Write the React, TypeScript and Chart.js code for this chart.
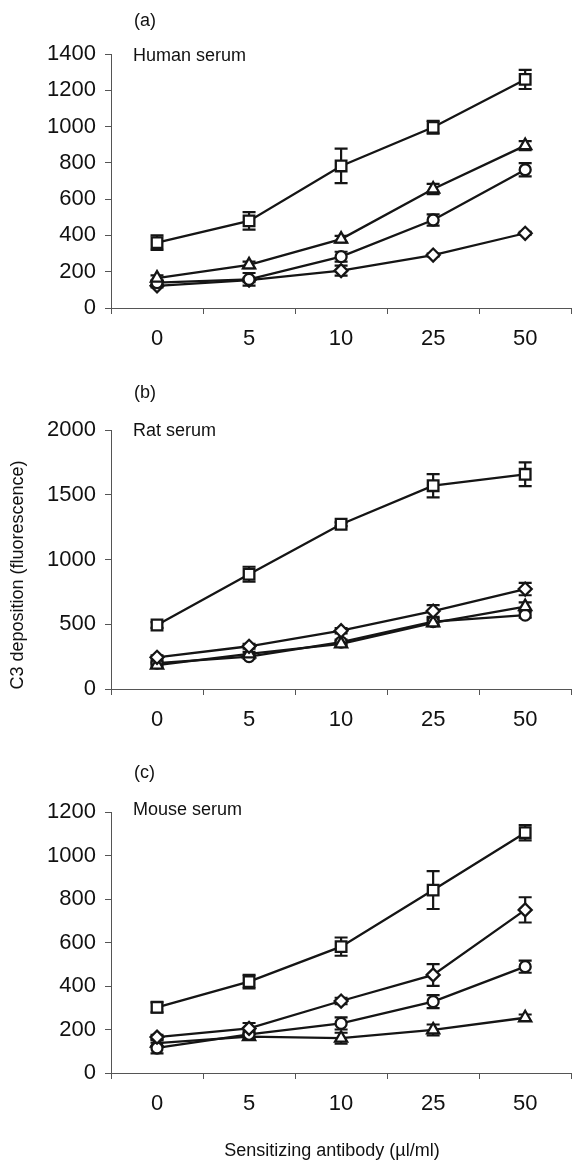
import React, { useEffect, useRef } from 'react';
import { Chart, registerables } from 'chart.js';

Chart.register(...registerables);

// ---------- data ----------
const categories = ['0', '5', '10', '25', '50'];

// (a) Human serum
const humanSquare = [360, 480, 783, 996, 1260];
const humanSquareErr = [40, 48, 95, 35, 53];
const humanTriangle = [165, 238, 380, 656, 895];
const humanTriangleErr = [15, 18, 18, 28, 25];
const humanCircle = [140, 158, 283, 485, 762];
const humanCircleErr = [12, 35, 27, 31, 36];
const humanDiamond = [122, 154, 206, 292, 412];
const humanDiamondErr = [8, 12, 28, 8, 8];
const humanYTicks = [0, 200, 400, 600, 800, 1000, 1200, 1400];

// (b) Rat serum
const ratSquare = [494, 886, 1272, 1570, 1658];
const ratSquareErr = [22, 58, 15, 90, 92];
const ratDiamond = [245, 330, 450, 602, 772];
const ratDiamondErr = [15, 18, 20, 45, 48];
const ratTriangle = [185, 272, 348, 510, 636];
const ratTriangleErr = [15, 15, 20, 25, 33];
const ratCircle = [200, 250, 362, 520, 571];
const ratCircleErr = [15, 15, 20, 25, 20];
const ratYTicks = [0, 500, 1000, 1500, 2000];

// (c) Mouse serum
const mouseSquare = [302, 420, 581, 841, 1105];
const mouseSquareErr = [23, 31, 42, 87, 35];
const mouseDiamond = [165, 205, 331, 451, 750];
const mouseDiamondErr = [10, 25, 15, 50, 58];
const mouseCircle = [115, 178, 228, 328, 489];
const mouseCircleErr = [25, 15, 28, 30, 28];
const mouseTriangle = [137, 167, 160, 198, 254];
const mouseTriangleErr = [15, 15, 25, 25, 15];
const mouseYTicks = [0, 200, 400, 600, 800, 1000, 1200];

const FONT = '"Liberation Sans", Arial, Helvetica, sans-serif';
const INK = '#151515';
const TEXT = '#111';
const AXIS = '#555';

const errorBarPlugin = {
  id: 'errorBars',
  beforeDatasetsDraw(chart: any) {
    const ctx = chart.ctx;
    const yScale = chart.scales.y;
    chart.data.datasets.forEach((ds: any, di: number) => {
      const errs = ds.errors;
      if (!errs) return;
      const meta = chart.getDatasetMeta(di);
      meta.data.forEach((pt: any, i: number) => {
        const v = ds.data[i];
        const e = errs[i];
        if (!e) return;
        const yTop = yScale.getPixelForValue(v + e);
        const yBot = yScale.getPixelForValue(v - e);
        ctx.save();
        ctx.strokeStyle = INK;
        ctx.lineWidth = 2.2;
        ctx.beginPath();
        ctx.moveTo(pt.x, yTop);
        ctx.lineTo(pt.x, yBot);
        ctx.moveTo(pt.x - 6.5, yTop);
        ctx.lineTo(pt.x + 6.5, yTop);
        ctx.moveTo(pt.x - 6.5, yBot);
        ctx.lineTo(pt.x + 6.5, yBot);
        ctx.stroke();
        ctx.restore();
      });
    });
  },
};

function makeDataset(data: number[], errors: number[], style: string, radius: number) {
  return {
    data,
    errors,
    borderColor: INK,
    borderWidth: 2.3,
    pointStyle: style,
    pointRadius: radius,
    pointBorderWidth: 2.3,
    pointBackgroundColor: '#fff',
    pointBorderColor: INK,
    fill: false,
    tension: 0,
  } as any;
}

type PanelProps = {
  top: number;
  height: number;
  padTop: number;
  axisBottom: number;
  yTicks: number[];
  datasets: any[];
};

function Panel({ top, height, padTop, axisBottom, yTicks, datasets }: PanelProps) {
  const ref = useRef<HTMLCanvasElement | null>(null);
  useEffect(() => {
    if (!ref.current) return;
    const tickFont = { family: FONT, size: 22 };
    const chart = new Chart(ref.current, {
      type: 'line',
      data: { labels: categories, datasets },
      plugins: [errorBarPlugin],
      options: {
        animation: false,
        responsive: false,
        devicePixelRatio: 1,
        layout: { padding: { top: padTop, right: 4, left: 0, bottom: 0 } },
        plugins: { legend: { display: false }, tooltip: { enabled: false } },
        scales: {
          x: {
            type: 'category',
            offset: true,
            grid: { offset: true, drawOnChartArea: false, drawTicks: true, tickLength: 6, color: AXIS },
            border: { display: true, color: AXIS, width: 1 },
            ticks: { font: tickFont, color: TEXT, padding: 12, autoSkip: false, maxRotation: 0 },
            afterFit: (s: any) => {
              s.height = height - axisBottom;
            },
          },
          y: {
            min: yTicks[0],
            max: yTicks[yTicks.length - 1],
            grid: { drawOnChartArea: false, drawTicks: true, tickLength: 6, color: AXIS },
            border: { display: true, color: AXIS, width: 1 },
            ticks: { font: tickFont, color: TEXT, padding: 9, callback: (v: any) => String(v) },
            afterBuildTicks: (s: any) => {
              s.ticks = yTicks.map((v) => ({ value: v }));
            },
            afterFit: (s: any) => {
              s.width = 111;
            },
          },
        },
      } as any,
    });
    return () => chart.destroy();
  }, []);
  return (
    <canvas
      ref={ref}
      width={581}
      height={height}
      style={{ position: 'absolute', left: 0, top, width: 581, height }}
    />
  );
}

function Label({ text, left, cy, size = 18 }: { text: string; left: number; cy: number; size?: number }) {
  return (
    <div
      style={{
        position: 'absolute',
        left,
        top: cy - 12,
        height: 24,
        lineHeight: '24px',
        fontFamily: FONT,
        fontSize: size,
        color: TEXT,
        whiteSpace: 'nowrap',
      }}
    >
      {text}
    </div>
  );
}

export default function App() {
  const humanSets = [
    makeDataset(humanSquare, humanSquareErr, 'rect', 7.5),
    makeDataset(humanTriangle, humanTriangleErr, 'triangle', 7),
    makeDataset(humanCircle, humanCircleErr, 'circle', 5.5),
    makeDataset(humanDiamond, humanDiamondErr, 'rectRot', 6.5),
  ];
  const ratSets = [
    makeDataset(ratSquare, ratSquareErr, 'rect', 7.5),
    makeDataset(ratDiamond, ratDiamondErr, 'rectRot', 6.5),
    makeDataset(ratTriangle, ratTriangleErr, 'triangle', 7),
    makeDataset(ratCircle, ratCircleErr, 'circle', 5.5),
  ];
  const mouseSets = [
    makeDataset(mouseSquare, mouseSquareErr, 'rect', 7.5),
    makeDataset(mouseDiamond, mouseDiamondErr, 'rectRot', 6.5),
    makeDataset(mouseCircle, mouseCircleErr, 'circle', 5.5),
    makeDataset(mouseTriangle, mouseTriangleErr, 'triangle', 7),
  ];
  return (
    <div style={{ position: 'absolute', left: 0, top: 0, width: 581, height: 1162, background: '#fff', overflow: 'hidden' }}>
      <Panel top={0} height={370} padTop={54} axisBottom={308} yTicks={humanYTicks} datasets={humanSets} />
      <Panel top={370} height={380} padTop={60} axisBottom={319} yTicks={ratYTicks} datasets={ratSets} />
      <Panel top={750} height={412} padTop={62} axisBottom={323} yTicks={mouseYTicks} datasets={mouseSets} />

      <Label text="(a)" left={134} cy={20} />
      <Label text="Human serum" left={133} cy={55} />
      <Label text="(b)" left={134} cy={392} />
      <Label text="Rat serum" left={133} cy={430} />
      <Label text="(c)" left={134} cy={772} />
      <Label text="Mouse serum" left={133} cy={809} />

      <div
        style={{
          position: 'absolute',
          left: 17 - 150,
          top: 575 - 12,
          width: 300,
          height: 24,
          lineHeight: '24px',
          textAlign: 'center',
          transform: 'rotate(-90deg)',
          fontFamily: FONT,
          fontSize: 18,
          color: TEXT,
          whiteSpace: 'nowrap',
        }}
      >
        C3 deposition (fluorescence)
      </div>
      <div
        style={{
          position: 'absolute',
          left: 332 - 200,
          top: 1150 - 12,
          width: 400,
          height: 24,
          lineHeight: '24px',
          textAlign: 'center',
          fontFamily: FONT,
          fontSize: 18,
          color: TEXT,
          whiteSpace: 'nowrap',
        }}
      >
        Sensitizing antibody (µl/ml)
      </div>
    </div>
  );
}
